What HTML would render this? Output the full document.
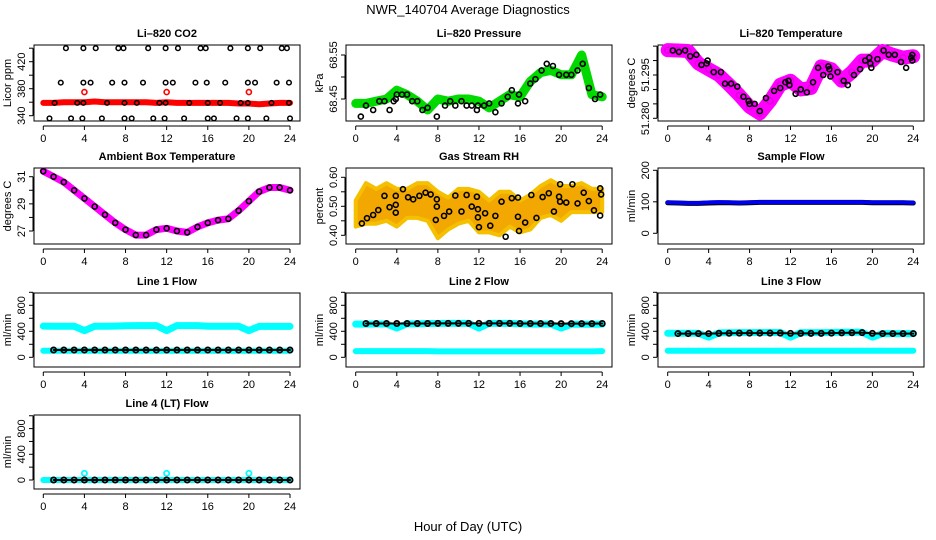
<!DOCTYPE html>
<html><head><meta charset="utf-8"><style>
html,body{margin:0;padding:0;background:#fff;}
svg{display:block;font-family:"Liberation Sans",Arial,sans-serif;}
</style></head><body>
<svg id="chart" width="936" height="540" viewBox="0 0 936 540">
<text x="468" y="14" text-anchor="middle" font-size="13">NWR_140704  Average Diagnostics</text>
<text x="468" y="531" text-anchor="middle" font-size="13">Hour of Day (UTC)</text>
</svg>
<script>
// ---- data ----
const xTicks=[0,4,8,12,16,20,24];
const hours25=[0,1,2,3,4,5,6,7,8,9,10,11,12,13,14,15,16,17,18,19,20,21,22,23,24];
// CO2
const co2Red=[359,359,360,360,360,361,360,360,360,360,360,359,360,359,359,359,359,359,359,358,358,357,358,359,359];
const co2RedCircH=[4,12,20];
const co2RedCircV=[375,375,375];
const co2BlackH=[2.2,3.9,5.1,7.3,7.8,10.2,11.9,13.1,15.3,15.8,18.2,19.9,21.1,23.2,23.7,
1.7,3.9,4.6,6.7,7.9,9.7,11.9,12.6,14.8,15.9,17.7,19.9,20.6,22.7,23.9,
1.1,3.3,3.9,6.2,7.9,9.1,11.3,11.9,14.2,16.0,17.2,19.2,19.9,22.2,23.9,
0.6,2.7,3.8,5.7,7.9,8.6,10.7,11.8,13.7,16.0,16.6,18.8,19.9,21.7,24.0];
const co2BlackV=[440,440,440,440,440,440,440,440,440,440,440,440,440,440,440,
389,389,389,389,389,389,389,389,389,389,389,389,389,389,389,
359,359,359,359,359,359,359,359,359,359,359,359,359,359,359,
336,336,336,336,336,336,336,336,336,336,336,336,336,336,336];
// Pressure
const presGreen=[68.44,68.44,68.445,68.45,68.47,68.46,68.445,68.425,68.45,68.445,68.45,68.45,68.445,68.43,68.445,68.46,68.455,68.49,68.51,68.515,68.505,68.505,68.55,68.46,68.455];
const presBlackH=[0.5,1.0,1.7,2.3,2.8,3.3,3.7,3.9,4.0,4.5,5.0,5.5,6.0,6.5,7.0,7.9,8.7,9.2,9.7,10.3,10.8,11.3,11.8,11.9,12.5,13.0,13.6,14.2,14.8,15.2,15.8,15.9,16.5,17.0,17.5,18.1,18.6,19.2,19.8,20.5,21.0,21.6,22.1,22.7,23.3,23.8];
const presBlackV=[68.41,68.435,68.425,68.445,68.445,68.425,68.445,68.45,68.46,68.46,68.46,68.445,68.445,68.425,68.43,68.41,68.435,68.445,68.435,68.445,68.435,68.435,68.425,68.435,68.435,68.44,68.42,68.44,68.455,68.47,68.44,68.46,68.445,68.485,68.495,68.515,68.53,68.525,68.505,68.505,68.505,68.515,68.53,68.475,68.45,68.46];
// Li-820 temperature
const tempMag=[51.3036,51.3035,51.3033,51.299,51.297,51.295,51.2916,51.288,51.284,51.2817,51.286,51.2916,51.293,51.290,51.2905,51.298,51.297,51.293,51.296,51.300,51.300,51.3033,51.302,51.301,51.3015];
const tempBlackH=[0.5,1.1,1.7,2.2,2.8,3.3,3.8,3.9,4.5,5.2,5.6,6.2,6.8,7.4,7.9,8.0,8.5,9.0,9.6,10.4,11.0,11.5,11.8,11.9,12.5,13.0,13.6,14.2,14.7,15.2,15.7,15.8,15.9,16.6,17.2,17.6,18.2,18.8,19.3,19.7,19.8,19.9,20.5,21.1,21.6,22.2,22.8,23.3,23.8,23.9,23.9];
const tempBlackV=[51.3035,51.303,51.3035,51.3015,51.302,51.2985,51.299,51.300,51.296,51.296,51.292,51.292,51.291,51.2875,51.286,51.285,51.285,51.2825,51.287,51.2895,51.2905,51.2925,51.293,51.2915,51.2885,51.290,51.289,51.2925,51.2975,51.295,51.298,51.297,51.2945,51.296,51.293,51.2915,51.295,51.297,51.300,51.301,51.299,51.2975,51.3005,51.3035,51.302,51.302,51.2995,51.2975,51.301,51.300,51.302];
// Ambient box temperature
const ambVals=[31.4,31.0,30.6,30.0,29.4,28.8,28.2,27.6,27.1,26.7,26.7,27.1,27.2,27.0,26.9,27.3,27.6,27.8,27.9,28.5,29.2,29.9,30.2,30.2,30.0];
// RH
const rhHi=[0.52,0.58,0.56,0.58,0.56,0.56,0.58,0.58,0.55,0.53,0.56,0.56,0.55,0.52,0.55,0.55,0.52,0.54,0.57,0.59,0.57,0.57,0.58,0.56,0.56];
const rhLo=[0.43,0.44,0.44,0.45,0.43,0.46,0.46,0.45,0.39,0.42,0.44,0.45,0.41,0.41,0.40,0.43,0.41,0.42,0.46,0.47,0.45,0.48,0.48,0.48,0.48];
const rhBlackH=[0.6,1.1,1.7,2.2,2.8,3.3,3.9,3.9,3.9,4.6,5.1,5.6,6.2,6.8,7.3,7.9,7.9,7.8,8.6,9.1,9.7,10.3,10.8,11.3,11.8,11.9,11.9,12.0,12.6,13.1,13.6,14.2,14.6,15.2,15.8,15.8,15.9,16.5,17.1,17.6,18.2,18.8,19.3,19.8,19.9,19.9,20.5,21.1,21.6,22.2,22.7,23.2,23.8,23.9,23.8];
const rhBlackV=[0.441,0.459,0.47,0.487,0.536,0.497,0.536,0.505,0.478,0.559,0.531,0.524,0.536,0.547,0.541,0.524,0.499,0.453,0.467,0.482,0.537,0.482,0.539,0.499,0.533,0.49,0.462,0.428,0.476,0.433,0.467,0.516,0.395,0.528,0.53,0.464,0.415,0.444,0.539,0.46,0.532,0.545,0.482,0.533,0.576,0.516,0.513,0.576,0.51,0.547,0.518,0.486,0.562,0.541,0.468];
// Sample flow
const sampBlue=[98,97,96,96,98,99,98,97,98,99,99,99,99,99,99,99,99,99,99,99,98,98,98,98,97];
const sampBlack=[97,96,95,95,96,97,97,96,97,98,98,98,98,98,98,98,98,98,98,98,97,97,97,97,96];
// Line flows
const l1Cyan=[480,478,478,478,410,478,478,480,485,488,488,488,410,488,488,488,478,478,478,478,410,476,476,476,476];
const l1CyanLow=[100,100,100,100,100,100,100,100,100,100,100,100,100,100,100,100,100,100,100,100,100,100,100,100,100];
const l1Black=[112,112,112,112,112,112,112,112,112,112,112,112,112,112,112,112,112,112,112,112,112,112,112,112,112];
const l2Cyan=[510,510,512,512,450,515,515,520,520,522,522,522,450,522,522,522,515,510,510,510,450,508,508,508,510];
const l2CyanLow=[95,95,95,95,95,95,95,95,92,92,92,92,92,92,92,92,92,92,92,92,92,92,92,92,95];
const l2Black=[520,520,520,520,520,520,520,520,522,522,522,522,522,522,522,522,520,520,520,520,518,518,518,518,520];
const l3Cyan=[370,370,370,370,310,375,378,380,380,382,382,382,310,380,380,380,382,385,385,385,310,365,365,365,365];
const l3CyanLow=[100,100,100,100,100,100,100,100,100,100,100,100,100,100,100,100,100,100,100,100,100,100,100,100,100];
const l3Black=[365,365,365,365,365,368,370,372,372,372,372,372,368,368,368,368,372,375,378,380,368,365,365,365,365];
const l4Cyan=[0,0,0,0,0,0,0,0,0,0,0,0,0,0,0,0,0,0,0,0,0,0,0,0,0];
const l4CyanCircH=[4,12,20];
const l4CyanCircV=[104,104,104];
const l4Black=[0,0,0,0,0,0,0,0,0,0,0,0,0,0,0,0,0,0,0,0,0,0,0,0,0];

const NS="http://www.w3.org/2000/svg";
const svg=document.getElementById('chart');
function mk(tag,attrs,parent){const e=document.createElementNS(NS,tag);for(const k in attrs)e.setAttribute(k,attrs[k]);(parent||svg).appendChild(e);return e;}

function panel(o){
  const g=mk('g',{});
  
  
  const sx=h=>o.x0+(o.x24-o.x0)*h/24;
  const sy=v=>o.py0+(v-o.v0)*(o.py1-o.py0)/(o.v1-o.v0);
  const box=mk('rect',{x:o.L,y:o.T,width:o.R-o.L,height:o.B-o.T,fill:'none',stroke:'#000','stroke-width':1},g);
  
  
  const t=mk('text',{x:(o.L+o.R)/2,y:o.T-8,'text-anchor':'middle','font-size':11,'font-weight':'bold'},g);
  t.textContent=o.title;
  
  
  // x axis
  const ay=o.B+5;
  mk('line',{x1:sx(0),x2:sx(24),y1:ay,y2:ay,stroke:'#000'},g);
  xTicks.forEach(h=>{
    mk('line',{x1:sx(h),x2:sx(h),y1:ay,y2:ay+4,stroke:'#000'},g);
    const tx=mk('text',{x:sx(h),y:ay+16,'text-anchor':'middle','font-size':11},g);
    tx.textContent=h;
    
    
  });
  // y axis
  const ax=o.L-1;
  const ys=o.yticks.map(sy);
  mk('line',{x1:ax,x2:ax,y1:Math.min(...ys),y2:Math.max(...ys),stroke:'#000'},g);
  o.yticks.forEach((v,i)=>{
    const y=sy(v);
    mk('line',{x1:ax-4,x2:ax,y1:y,y2:y,stroke:'#000'},g);
    if(o.ylabels[i]){
      const tx=mk('text',{x:0,y:0,'text-anchor':'middle','font-size':11,transform:`translate(${ax-8},${y}) rotate(-90)`},g);
      tx.textContent=o.ylabels[i];
      
      
    }
  });
  const yl=mk('text',{x:0,y:0,'text-anchor':'middle','font-size':11,transform:`translate(${o.L-23},${(o.T+o.B)/2}) rotate(-90)`},g);
  yl.textContent=o.ylab;
  
  
  return {g,sx,sy};
}
function circles(p,H,V,col,r,sw,name){
  const g=mk('g',{},p.g);
  
  
  H.forEach((h,i)=>{mk('circle',{cx:p.sx(h),cy:p.sy(V[i]),r:r,fill:'none',stroke:col,'stroke-width':sw},g);});
}
function band(p,H,V,col,w,name){
  const pl=mk('polyline',{points:H.map((h,i)=>p.sx(h)+','+p.sy(V[i])).join(' '),fill:'none',stroke:col,'stroke-width':w,'stroke-linejoin':'round','stroke-linecap':'round'},p.g);
  
  
}
const cols=[{L:34,R:300,x0:43.3,x24:290},{L:346,R:612,x0:355.7,x24:602.2},{L:658,R:924,x0:667.7,x24:913.3}];
const rows=[{T:45,B:121},{T:168,B:244},{T:293,B:367},{T:415,B:489}];
function cfg(c,r,extra){return Object.assign({},cols[c],rows[r],extra);}

// CO2
let p=panel(cfg(0,0,{name:'co2-panel',title:'Li\u2013820 CO2',ylab:'Licor ppm',v0:340,v1:440,py0:115.7,py1:48.2,yticks:[340,360,380,400,420,440],ylabels:['340','','380','','420','']}));
band(p,hours25,co2Red,'#f00',6,'co2-red-series');
circles(p,co2RedCircH,co2RedCircV,'#f00',2.5,1.6,'co2-red-points');
circles(p,co2BlackH,co2BlackV,'#000',2.3,1.5,'co2-black-points');
// Pressure
p=panel(cfg(1,0,{name:'pressure-panel',title:'Li\u2013820 Pressure',ylab:'kPa',v0:68.45,v1:68.55,py0:99,py1:55,yticks:[68.45,68.50,68.55],ylabels:['68.45','','68.55']}));
band(p,hours25,presGreen,'#00d800',9,'pressure-green-series');
circles(p,hours25,presGreen,'#00e000',3,1.5,'pressure-green-points');
circles(p,presBlackH,presBlackV,'#000',2.5,1.6,'pressure-black-points');
// Temperature
p=panel(cfg(2,0,{name:'li820-temperature-panel',title:'Li\u2013820 Temperature',ylab:'degrees C',v0:51.280,v1:51.295,py0:118.3,py1:75,yticks:[51.280,51.285,51.290,51.295,51.300,51.305],ylabels:['51.280','','','51.295','','']}));
band(p,hours25,tempMag,'#f0f',14,'temperature-magenta-series');
circles(p,hours25,tempMag,'#e000e0',3,1.5,'temperature-magenta-points');
circles(p,tempBlackH,tempBlackV,'#000',2.5,1.6,'temperature-black-points');
// Ambient
p=panel(cfg(0,1,{name:'ambient-temperature-panel',title:'Ambient Box Temperature',ylab:'degrees C',v0:27,v1:31,py0:231,py1:176.7,yticks:[27,28,29,30,31],ylabels:['27','','29','','31']}));
band(p,hours25,ambVals,'#f0f',7,'ambient-magenta-series');
circles(p,hours25,ambVals,'#000',2.5,1.6,'ambient-black-points');
// RH
p=panel(cfg(1,1,{name:'rh-panel',title:'Gas Stream RH',ylab:'percent',v0:0.40,v1:0.60,py0:235.3,py1:177.3,yticks:[0.40,0.45,0.50,0.55,0.60],ylabels:['0.40','','0.50','','0.60']}));
{const pts=hours25.map((h,i)=>p.sx(h)+','+p.sy(rhHi[i])).concat(hours25.slice().reverse().map((h,j)=>{const i=hours25.length-1-j;return p.sx(h)+','+p.sy(rhLo[i]);}));
 const poly=mk('polygon',{points:pts.join(' '),fill:'#f2a800',stroke:'#f5c000','stroke-width':4,'stroke-linejoin':'round'},p.g);
 
 }
circles(p,rhBlackH,rhBlackV,'#000',2.5,1.6,'rh-black-points');
// Sample flow
p=panel(cfg(2,1,{name:'sample-flow-panel',title:'Sample Flow',ylab:'ml/min',v0:0,v1:200,py0:233.3,py1:170.3,yticks:[0,100,200],ylabels:['0','100','200']}));
band(p,hours25,sampBlack,'#000',5,'sample-black-series');
band(p,hours25,sampBlue,'#0000f0',4,'sample-blue-series');
// Line 1
const fl=(c,r,name,title,py0,py1)=>panel(cfg(c,r,{name,title,ylab:'ml/min',v0:0,v1:400,py0,py1,yticks:[0,200,400,600,800,1000],ylabels:['0','','400','','800','']}));
p=fl(0,2,'line1-flow-panel','Line 1 Flow',357.3,331.3);
band(p,hours25,l1Cyan,'#0ff',7,'line1-cyan-high');
band(p,hours25,l1CyanLow,'#0ff',6,'line1-cyan-low');
band(p,hours25.slice(1),l1Black.slice(1),'#000',2,'line1-black-line');
circles(p,hours25.slice(1),l1Black.slice(1),'#000',2.6,1.8,'line1-black-points');
p=fl(1,2,'line2-flow-panel','Line 2 Flow',357.3,331.3);
band(p,hours25,l2Cyan,'#0ff',7,'line2-cyan-high');
band(p,hours25,l2CyanLow,'#0ff',6,'line2-cyan-low');
band(p,hours25.slice(1),l2Black.slice(1),'#000',2,'line2-black-line');
circles(p,hours25.slice(1),l2Black.slice(1),'#000',2.6,1.8,'line2-black-points');
p=fl(2,2,'line3-flow-panel','Line 3 Flow',357.3,331.3);
band(p,hours25,l3Cyan,'#0ff',7,'line3-cyan-high');
band(p,hours25,l3CyanLow,'#0ff',6,'line3-cyan-low');
band(p,hours25.slice(1),l3Black.slice(1),'#000',2,'line3-black-line');
circles(p,hours25.slice(1),l3Black.slice(1),'#000',2.6,1.8,'line3-black-points');
p=fl(0,3,'line4-flow-panel','Line 4 (LT) Flow',480,454.3);
band(p,hours25,l4Cyan,'#0ff',6,'line4-cyan-series');
circles(p,l4CyanCircH,l4CyanCircV,'#0ff',2.6,1.8,'line4-cyan-points');
band(p,hours25.slice(1),l4Black.slice(1),'#000',2,'line4-black-line');
circles(p,hours25.slice(1),l4Black.slice(1),'#000',2.6,1.8,'line4-black-points');
</script>
</body></html>
